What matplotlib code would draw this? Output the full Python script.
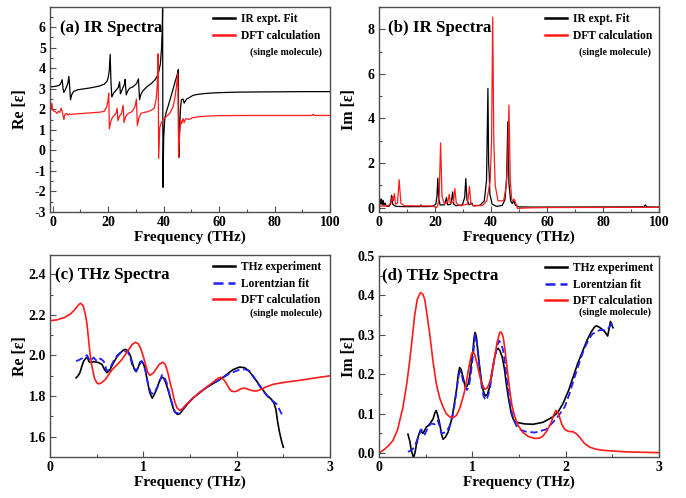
import matplotlib.pyplot as plt
import numpy as np
from matplotlib.ticker import MultipleLocator


plt.rcParams["font.family"] = ["Liberation Serif", "DejaVu Serif"]
plt.rcParams["font.weight"] = "bold"
plt.rcParams["axes.unicode_minus"] = False


# -------------------------------------------------
# (a) IR spectra, real part  (frequency THz, Re eps)
# -------------------------------------------------

ir_re_expt = [
    (-1, 3.1), (0, 3.1), (1, 3.12), (2, 3.15), (2.6, 3.2), (3.0, 3.3),
    (3.4, 3.44), (3.7, 3.0), (4.0, 2.82), (4.5, 2.95), (5.0, 3.1),
    (5.5, 3.3), (5.8, 3.6), (6.1, 3.1), (6.4, 2.46), (6.8, 2.7),
    (7.5, 2.87), (9, 2.95), (11, 2.99), (13, 3.03), (15, 3.08),
    (17, 3.14), (18.5, 3.22), (19.5, 3.35), (20.0, 3.55), (20.4, 3.9),
    (20.7, 4.67), (21.0, 3.3), (21.3, 2.6), (22.0, 2.8), (23.0, 2.95),
    (23.7, 3.08), (24.1, 3.34), (24.4, 2.75), (24.8, 2.88), (25.3, 3.05),
    (25.8, 3.2), (26.1, 3.45), (26.5, 2.7), (27.0, 2.88), (27.7, 3.02),
    (29, 3.1), (30.2, 3.25), (30.9, 3.48), (31.3, 2.46), (31.7, 2.7),
    (32.5, 2.9), (34, 3.1), (35.5, 3.25), (37, 3.45), (38.0, 3.7),
    (38.8, 4.2), (39.2, 4.9), (39.5, 5.9), (39.62, 6.98), (39.75, -1.8),
    (40.0, 0.6), (40.4, 1.55), (41.0, 1.9), (41.6, 2.15), (42.8, 2.7),
    (44.0, 3.28), (44.9, 3.69), (45.3, 3.93), (45.45, -0.35), (45.8, 1.2),
    (46.1, 2.1), (46.4, 2.46), (47.0, 2.5), (47.4, 2.3), (47.8, 2.4),
    (48.3, 2.5), (49, 2.55), (50.6, 2.68), (52, 2.72), (54.3, 2.76),
    (57, 2.79), (60, 2.81), (65, 2.83), (70, 2.84), (80, 2.85),
    (90, 2.86), (100, 2.86),
]

ir_re_dft = [
    (-1, 2.2), (-0.6, 2.0), (-0.3, 2.3), (0, 1.95), (0.5, 1.9),
    (1, 1.88), (1.5, 1.8), (2, 1.9), (2.5, 1.85), (3.0, 2.05),
    (3.3, 1.95), (3.7, 1.7), (4.0, 1.5), (4.4, 1.75), (5.0, 1.8),
    (5.6, 1.72), (6.0, 1.78), (6.5, 1.74), (7, 1.76), (9, 1.78),
    (11, 1.8), (13, 1.82), (15, 1.84), (17, 1.86), (18.5, 1.9),
    (19.4, 2.1), (19.9, 2.4), (20.2, 2.78), (20.4, 1.05), (20.9, 1.4),
    (21.5, 1.6), (22.3, 1.72), (22.8, 1.8), (23.2, 2.05), (23.5, 1.45),
    (24.2, 1.7), (24.8, 1.8), (25.4, 2.2), (25.7, 1.35), (26.3, 1.65),
    (27.2, 1.8), (28.5, 1.88), (29.6, 2.1), (30.2, 2.5), (30.5, 1.2),
    (31.0, 1.55), (31.8, 1.8), (33, 1.85), (34.2, 1.88), (35.5, 1.95),
    (36.6, 2.05), (37.3, 2.5), (37.7, 3.2), (38.0, 4.7), (38.2, -0.4),
    (38.6, 1.1), (39.0, 1.3), (39.8, 1.5), (41, 1.65), (42.2, 1.8),
    (43.3, 2.1), (44.0, 2.5), (44.6, 3.1), (45.1, 3.75), (45.4, -0.35),
    (45.8, 0.9), (46.1, 1.45), (46.5, 1.3), (47.0, 1.55), (47.4, 1.35),
    (47.8, 1.5), (48.2, 1.55), (49, 1.5), (50.6, 1.6), (53, 1.64),
    (56, 1.67), (60, 1.69), (70, 1.7), (80, 1.7), (90, 1.7),
    (93.5, 1.7), (94, 1.76), (94.5, 1.7), (95, 1.7), (100, 1.7),
]

# -------------------------------------------------
# (b) IR spectra, imaginary part
# -------------------------------------------------

ir_im_expt = [
    (0, 0.25), (0.3, 0.4), (0.6, 0.15), (0.9, 0.38), (1.2, 0.12),
    (1.5, 0.32), (1.8, 0.1), (2.2, 0.2), (2.6, 0.06), (3.5, 0.05),
    (4.1, 0.15), (4.5, 0.55), (4.9, 0.15), (5.5, 0.08), (6.5, 0.05),
    (9, 0.04), (14.7, 0.04), (15, 0.12), (15.3, 0.04), (19, 0.05),
    (20.3, 0.15), (20.7, 0.5), (21.0, 1.32), (21.3, 0.45), (21.8, 0.12),
    (23.3, 0.12), (23.8, 0.3), (24.1, 0.45), (24.5, 0.12), (25.6, 0.15),
    (26.0, 0.4), (26.3, 0.7), (26.7, 0.15), (27.5, 0.08), (29.8, 0.12),
    (30.6, 0.45), (31.0, 1.3), (31.4, 0.35), (32.2, 0.12), (33.2, 0.2),
    (33.6, 0.08), (36, 0.1), (37.6, 0.3), (38.4, 1.2), (38.9, 5.35),
    (39.15, 2.0), (39.35, 1.55), (39.6, 0.6), (40.4, 0.15), (42, 0.05),
    (44, 0.1), (45.0, 0.35), (45.6, 1.4), (46.0, 3.85), (46.4, 1.1),
    (47.0, 0.3), (47.6, 0.18), (48.1, 0.3), (48.7, 0.1), (50, 0.03),
    (55, 0.02), (94.6, 0.03), (95.1, 0.12), (95.6, 0.03), (100, 0.02),
]

ir_im_dft = [
    (0, 0.06), (3, 0.07), (4.3, 0.2), (4.8, 0.5), (5.1, 0.3),
    (5.5, 0.62), (5.9, 0.15), (6.6, 0.2), (7.2, 1.25), (7.8, 0.2),
    (9, 0.08), (19, 0.07), (20.6, 0.0), (21.0, 0.1), (21.5, 0.55),
    (22.0, 2.9), (22.5, 0.5), (23.4, 0.15), (24.6, 0.25), (25.1, 0.6),
    (25.5, 0.2), (26.6, 0.25), (27.1, 0.85), (27.6, 0.2), (29, 0.08),
    (31.6, 0.15), (32.3, 0.95), (32.8, 0.18), (34, 0.07), (37, 0.1),
    (38.5, 0.3), (39.7, 1.2), (40.2, 3.0), (40.6, 8.55), (41.0, 3.0),
    (41.5, 1.0), (42.5, 0.3), (44.5, 0.3), (45.5, 1.0), (46.0, 2.2),
    (46.4, 4.6), (46.9, 1.2), (47.4, 0.35), (47.8, 0.3), (48.2, 0.38),
    (48.7, 0.25), (49.5, -0.04), (52, -0.02), (60, 0.0), (100, 0.01),
]

# -------------------------------------------------
# (c) THz spectra, real part
# -------------------------------------------------

thz_re_expt = [
    (0.28, 1.89), (0.3, 1.9), (0.32, 1.915), (0.34, 1.945),
    (0.36, 1.972), (0.39, 1.99), (0.405, 1.985), (0.42, 1.968),
    (0.44, 1.965), (0.467, 1.97), (0.49, 1.968), (0.52, 1.965),
    (0.557, 1.956), (0.585, 1.93), (0.61, 1.915), (0.64, 1.928),
    (0.68, 1.964), (0.72, 1.995), (0.755, 2.013), (0.79, 2.028),
    (0.81, 2.03), (0.835, 2.022), (0.86, 2.0), (0.885, 1.96),
    (0.905, 1.93), (0.923, 1.92), (0.945, 1.942), (0.965, 1.968),
    (0.985, 1.972), (1.005, 1.955), (1.024, 1.923), (1.045, 1.87),
    (1.07, 1.815), (1.096, 1.79), (1.12, 1.81), (1.15, 1.842),
    (1.175, 1.878), (1.2, 1.894), (1.22, 1.888), (1.24, 1.866),
    (1.265, 1.83), (1.29, 1.79), (1.31, 1.755), (1.33, 1.727),
    (1.365, 1.71), (1.39, 1.713), (1.42, 1.73), (1.47, 1.76),
    (1.53, 1.79), (1.6, 1.815), (1.67, 1.84), (1.74, 1.86),
    (1.815, 1.88), (1.89, 1.905), (1.96, 1.93), (2.03, 1.943),
    (2.084, 1.94), (2.13, 1.925), (2.17, 1.9), (2.22, 1.87),
    (2.26, 1.843), (2.32, 1.806), (2.37, 1.785), (2.4, 1.765),
    (2.42, 1.735), (2.44, 1.67), (2.46, 1.62), (2.48, 1.58),
    (2.5, 1.548),
]

thz_re_fit = [
    (0.28, 1.972), (0.32, 1.98), (0.36, 1.99), (0.395, 2.002),
    (0.43, 1.972), (0.467, 1.99), (0.503, 1.972), (0.54, 1.985),
    (0.575, 1.972), (0.61, 1.923), (0.64, 1.935), (0.68, 1.972),
    (0.72, 2.0), (0.77, 2.02), (0.83, 2.02), (0.86, 1.99),
    (0.88, 1.955), (0.923, 1.923), (0.955, 1.95), (0.98, 1.972),
    (1.005, 1.958), (1.024, 1.923), (1.05, 1.86), (1.08, 1.817),
    (1.11, 1.81), (1.14, 1.835), (1.17, 1.866), (1.2, 1.904),
    (1.225, 1.892), (1.25, 1.866), (1.29, 1.79), (1.34, 1.72),
    (1.38, 1.714), (1.41, 1.73), (1.455, 1.753), (1.53, 1.788),
    (1.6, 1.817), (1.7, 1.85), (1.815, 1.88), (1.92, 1.91),
    (2.03, 1.93), (2.09, 1.932), (2.14, 1.923), (2.19, 1.89),
    (2.245, 1.85), (2.3, 1.815), (2.35, 1.79), (2.43, 1.76),
    (2.5, 1.695),
]

thz_re_dft = [
    (0.0, 2.171), (0.08, 2.176), (0.16, 2.188), (0.22, 2.205),
    (0.27, 2.228), (0.31, 2.252), (0.33, 2.257), (0.355, 2.245),
    (0.375, 2.21), (0.395, 2.16), (0.413, 2.08), (0.43, 2.005),
    (0.45, 1.945), (0.475, 1.89), (0.5, 1.866), (0.52, 1.86),
    (0.55, 1.865), (0.59, 1.88), (0.665, 1.93), (0.72, 1.955),
    (0.77, 1.98), (0.83, 2.02), (0.88, 2.054), (0.916, 2.065),
    (0.945, 2.058), (0.97, 2.037), (1.0, 1.995), (1.024, 1.956),
    (1.045, 1.918), (1.07, 1.902), (1.11, 1.915), (1.17, 1.956),
    (1.21, 1.967), (1.235, 1.955), (1.26, 1.92), (1.285, 1.87),
    (1.31, 1.825), (1.335, 1.775), (1.36, 1.742), (1.39, 1.73),
    (1.42, 1.738), (1.455, 1.757), (1.52, 1.785), (1.6, 1.817),
    (1.68, 1.845), (1.74, 1.866), (1.8, 1.888), (1.83, 1.893),
    (1.86, 1.882), (1.886, 1.866), (1.915, 1.84), (1.94, 1.826),
    (1.97, 1.822), (2.0, 1.824), (2.04, 1.835), (2.084, 1.84),
    (2.13, 1.832), (2.174, 1.826), (2.21, 1.825), (2.245, 1.83),
    (2.32, 1.846), (2.39, 1.858), (2.5, 1.867), (2.68, 1.878),
    (2.85, 1.89), (3.0, 1.90),
]

# -------------------------------------------------
# (d) THz spectra, imaginary part
# -------------------------------------------------

thz_im_expt = [
    (0.31, 0.048), (0.33, 0.03), (0.346, 0.007), (0.37, -0.012),
    (0.385, 0.0), (0.4, 0.02), (0.42, 0.042), (0.443, 0.058),
    (0.47, 0.05), (0.49, 0.058), (0.507, 0.066), (0.53, 0.07),
    (0.55, 0.076), (0.58, 0.087), (0.6, 0.103), (0.614, 0.108),
    (0.63, 0.095), (0.65, 0.075), (0.67, 0.048), (0.686, 0.035),
    (0.71, 0.04), (0.74, 0.053), (0.77, 0.078), (0.79, 0.1),
    (0.81, 0.13), (0.83, 0.16), (0.85, 0.2), (0.864, 0.217),
    (0.88, 0.212), (0.9, 0.193), (0.92, 0.172), (0.936, 0.168),
    (0.955, 0.175), (0.971, 0.193), (0.99, 0.23), (1.007, 0.261),
    (1.02, 0.295), (1.03, 0.306), (1.042, 0.295), (1.054, 0.27),
    (1.075, 0.225), (1.096, 0.185), (1.12, 0.155), (1.14, 0.145),
    (1.16, 0.148), (1.186, 0.168), (1.21, 0.205), (1.24, 0.244),
    (1.26, 0.262), (1.275, 0.266), (1.295, 0.26), (1.32, 0.244),
    (1.345, 0.212), (1.364, 0.176), (1.39, 0.135), (1.418, 0.1),
    (1.44, 0.085), (1.47, 0.078), (1.56, 0.074), (1.65, 0.073),
    (1.757, 0.078), (1.864, 0.092), (1.92, 0.105), (1.97, 0.125),
    (2.03, 0.158), (2.08, 0.193), (2.13, 0.228), (2.186, 0.261),
    (2.23, 0.287), (2.275, 0.308), (2.31, 0.32), (2.33, 0.323),
    (2.355, 0.32), (2.38, 0.316), (2.418, 0.308), (2.45, 0.297),
    (2.465, 0.315), (2.48, 0.334), (2.507, 0.318),
]

thz_im_fit = [
    (0.31, 0.003), (0.346, 0.007), (0.38, 0.015), (0.418, 0.04),
    (0.454, 0.06), (0.49, 0.047), (0.525, 0.066), (0.56, 0.075),
    (0.596, 0.073), (0.63, 0.083), (0.65, 0.068), (0.668, 0.05),
    (0.72, 0.053), (0.76, 0.07), (0.79, 0.096), (0.815, 0.13),
    (0.836, 0.168), (0.855, 0.198), (0.87, 0.208), (0.89, 0.195),
    (0.907, 0.176), (0.943, 0.16), (0.965, 0.172), (0.98, 0.193),
    (1.0, 0.235), (1.014, 0.261), (1.03, 0.3), (1.042, 0.292),
    (1.054, 0.27), (1.075, 0.22), (1.096, 0.176), (1.12, 0.145),
    (1.14, 0.134), (1.16, 0.14), (1.186, 0.16), (1.21, 0.2),
    (1.24, 0.244), (1.265, 0.272), (1.286, 0.285), (1.305, 0.28),
    (1.33, 0.261), (1.35, 0.228), (1.37, 0.185), (1.395, 0.14),
    (1.418, 0.108), (1.44, 0.085), (1.47, 0.07), (1.51, 0.06),
    (1.56, 0.055), (1.67, 0.052), (1.79, 0.06), (1.9, 0.087),
    (1.99, 0.117), (2.04, 0.15), (2.096, 0.193), (2.15, 0.232),
    (2.2, 0.265), (2.25, 0.29), (2.29, 0.303), (2.364, 0.312),
    (2.436, 0.312), (2.47, 0.32), (2.507, 0.335),
]

thz_im_dft = [
    (0.0, 0.0), (0.05, 0.008), (0.1, 0.018), (0.15, 0.032),
    (0.2, 0.06), (0.257, 0.117), (0.3, 0.18), (0.33, 0.236),
    (0.36, 0.3), (0.38, 0.346), (0.41, 0.39), (0.443, 0.407),
    (0.47, 0.403), (0.49, 0.39), (0.515, 0.35), (0.543, 0.303),
    (0.58, 0.23), (0.614, 0.176), (0.65, 0.14), (0.686, 0.117),
    (0.72, 0.1), (0.757, 0.092), (0.8, 0.09), (0.83, 0.096),
    (0.86, 0.11), (0.88, 0.125), (0.91, 0.15), (0.936, 0.18),
    (0.965, 0.22), (0.99, 0.25), (1.007, 0.257), (1.025, 0.25),
    (1.05, 0.228), (1.075, 0.2), (1.1, 0.177), (1.13, 0.162),
    (1.16, 0.165), (1.19, 0.182), (1.215, 0.21), (1.24, 0.244),
    (1.265, 0.28), (1.293, 0.306), (1.31, 0.307), (1.33, 0.295),
    (1.35, 0.262), (1.37, 0.22), (1.4, 0.16), (1.425, 0.12),
    (1.453, 0.094), (1.49, 0.07), (1.543, 0.052), (1.6, 0.042),
    (1.67, 0.037), (1.72, 0.038), (1.757, 0.043), (1.8, 0.057),
    (1.84, 0.075), (1.87, 0.095), (1.893, 0.108), (1.91, 0.106),
    (1.936, 0.09), (1.96, 0.072), (1.99, 0.06), (2.03, 0.055),
    (2.08, 0.054), (2.12, 0.048), (2.15, 0.04), (2.2, 0.025),
    (2.257, 0.015), (2.32, 0.01), (2.4, 0.007), (2.65, 0.003),
    (3.0, 0.001),
]


FIG_W, FIG_H = 686, 498

RED = "#ff1a1a"
BLUE = "#1f1fff"
SPINE = "#4d4d4d"


def add_panel(fig, left, top, right, bottom):
    """Axes placed by pixel edges."""
    return fig.add_axes([
        left / FIG_W,
        1 - bottom / FIG_H,
        (right - left) / FIG_W,
        (bottom - top) / FIG_H,
    ])


def style_panel(ax, xlim, ylim, xstep, ystep, ylabel, title, title_x):
    ax.set_xlim(*xlim)
    ax.set_ylim(*ylim)

    ax.xaxis.set_major_locator(MultipleLocator(xstep))
    ax.xaxis.set_minor_locator(MultipleLocator(xstep / 2))
    ax.yaxis.set_major_locator(MultipleLocator(ystep))
    ax.yaxis.set_minor_locator(MultipleLocator(ystep / 2))

    ax.tick_params(which="both", direction="in", top=False, right=False,
                   labelsize=10, pad=3, color=SPINE)
    ax.tick_params(which="major", length=4, width=0.8)
    ax.tick_params(which="minor", length=2, width=0.8)

    for spine in ax.spines.values():
        spine.set_color(SPINE)
        spine.set_linewidth(1.0)

    ax.set_xlabel("Frequency (THz)", fontsize=11, fontweight="bold")
    ax.xaxis.set_label_coords(0.5, -0.09)

    ax.set_ylabel(ylabel, fontsize=11.5, fontweight="bold")
    ax.yaxis.set_label_coords(-0.08, 0.5)

    ax.text(title_x, 0.9, title, transform=ax.transAxes,
            fontsize=12.2, fontweight="bold", va="center", ha="left")


def draw(ax, pairs, **kw):
    data = np.array(pairs)
    ax.plot(data[:, 0], data[:, 1], **kw)


def add_legend(ax, x_anchor, y_anchor, sub_y):
    leg = ax.legend(
        loc="upper left",
        bbox_to_anchor=(x_anchor, y_anchor),
        frameon=False,
        fontsize=8.3,
        handlelength=1.9,
        handletextpad=0.55,
        labelspacing=0.4,
        borderpad=0,
        borderaxespad=0,
    )
    for line in leg.get_lines():
        line.set_linewidth(1.8)

    ax.text(0.971, sub_y, "(single molecule)", transform=ax.transAxes,
            fontsize=7.2, fontweight="bold", ha="right", va="center")


fig = plt.figure(figsize=(FIG_W / 100, FIG_H / 100), dpi=100)

ax_a = add_panel(fig, 50, 7, 330, 212)
ax_b = add_panel(fig, 379, 7, 659, 212)
ax_c = add_panel(fig, 50, 255, 330, 457)
ax_d = add_panel(fig, 379, 256, 659, 457)


# (a)
draw(ax_a, ir_re_expt, color="black", lw=0.9, label="IR expt. Fit")
draw(ax_a, ir_re_dft, color=RED, lw=0.9, label="DFT calculation")
style_panel(ax_a, (-1, 100), (-3, 6.98), 20, 1, "Re [ε]",
            "(a) IR Spectra", 0.036)
add_legend(ax_a, 0.582, 0.97, 0.78)

# (b)
draw(ax_b, ir_im_expt, color="black", lw=0.9, label="IR expt. Fit")
draw(ax_b, ir_im_dft, color=RED, lw=0.9, label="DFT calculation")
style_panel(ax_b, (0, 100), (-0.2, 9), 20, 2, "Im [ε]",
            "(b) IR Spectra", 0.032)
add_legend(ax_b, 0.593, 0.97, 0.78)

# (c)
draw(ax_c, thz_re_expt, color="black", lw=1.2, label="THz experiment")
draw(ax_c, thz_re_fit, color=BLUE, lw=1.3, ls=(0, (4, 2)),
     label="Lorentzian fit")
draw(ax_c, thz_re_dft, color=RED, lw=1.2, label="DFT calculation")
style_panel(ax_c, (0, 3), (1.5, 2.495), 1, 0.2, "Re [ε]",
            "(c) THz Spectra", 0.018)
add_legend(ax_c, 0.582, 0.97, 0.711)

# (d)
draw(ax_d, thz_im_expt, color="black", lw=1.2, label="THz experiment")
draw(ax_d, thz_im_fit, color=BLUE, lw=1.3, ls=(0, (4, 2)),
     label="Lorentzian fit")
draw(ax_d, thz_im_dft, color=RED, lw=1.2, label="DFT calculation")
style_panel(ax_d, (0, 3), (-0.01, 0.5), 1, 0.1, "Im [ε]",
            "(d) THz Spectra", 0.011)
add_legend(ax_d, 0.593, 0.97, 0.72)


fig.savefig("out.png", dpi=100)
